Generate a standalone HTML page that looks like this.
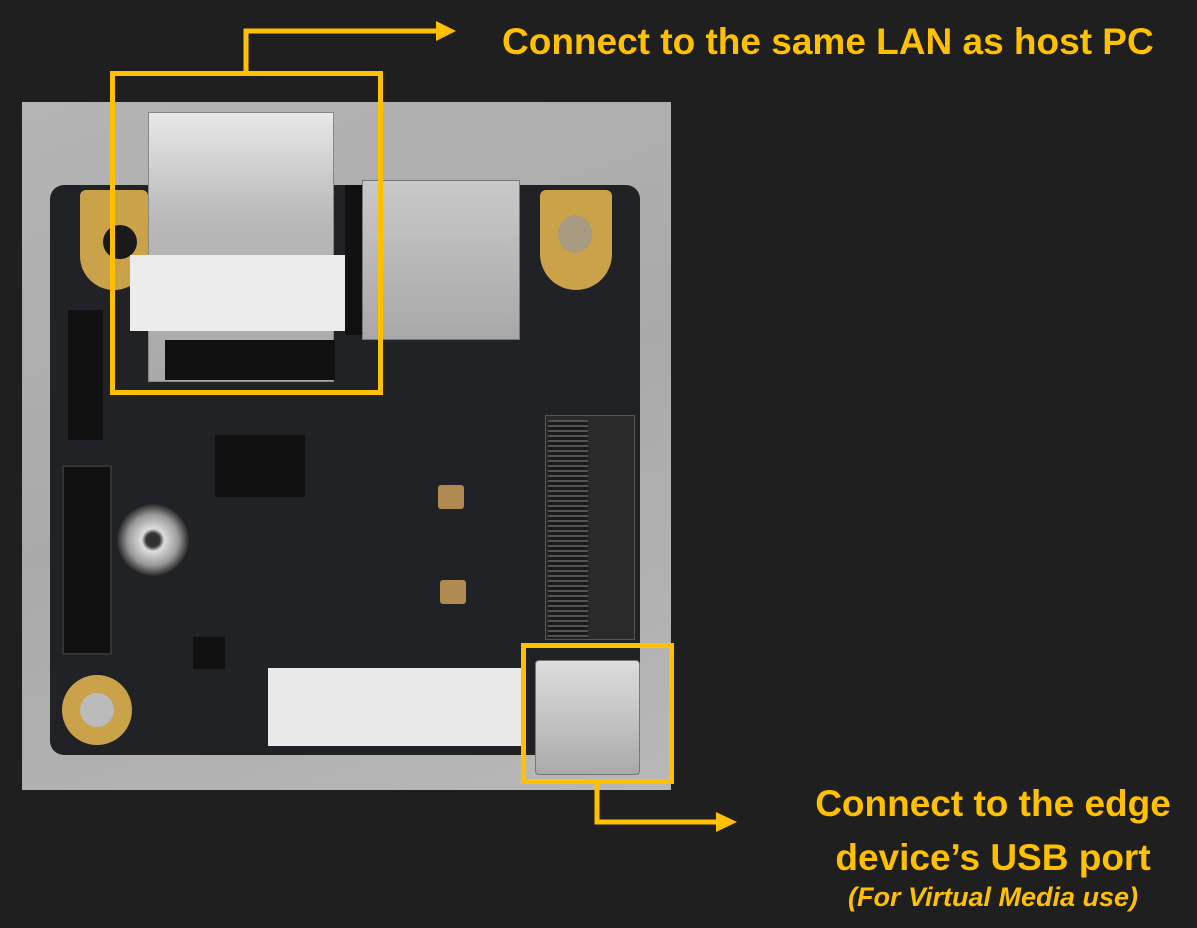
<!DOCTYPE html>
<html><head><meta charset="utf-8"><style>
body{margin:0;width:1197px;height:928px;background:#1f1f1f;position:relative;overflow:hidden;font-family:"Liberation Sans",sans-serif}
div{position:absolute;box-sizing:border-box}
.t{color:#ffc000;font-weight:bold;white-space:nowrap}
</style></head><body>
<div style="left:22px;top:102px;width:649px;height:688px;background:linear-gradient(160deg,#b4b4b4,#a9a9a9 50%,#b8b8b8)"></div>
<div style="left:50px;top:185px;width:590px;height:570px;background:#202226;border-radius:14px"></div>
<div style="left:62px;top:465px;width:50px;height:190px;background:#111;border:2px solid #333"></div>
<div style="left:68px;top:310px;width:35px;height:130px;background:#111"></div>
<div style="left:80px;top:190px;width:68px;height:100px;background:#c9a24a;border-radius:6px 6px 34px 34px"></div>
<div style="left:103px;top:225px;width:34px;height:34px;background:#1a1a1a;border-radius:50%"></div>
<div style="left:540px;top:190px;width:72px;height:100px;background:#c9a24a;border-radius:6px 6px 36px 36px"></div>
<div style="left:558px;top:215px;width:34px;height:38px;background:#a89a80;border-radius:50%"></div>
<div style="left:62px;top:675px;width:70px;height:70px;background:#c9a24a;border-radius:50%"></div>
<div style="left:80px;top:693px;width:34px;height:34px;background:#bbb;border-radius:50%"></div>
<div style="left:148px;top:112px;width:186px;height:270px;background:linear-gradient(180deg,#e8e8e8,#b8b8b8 40%,#a8a8a8);border:1px solid #888"></div>
<div style="left:130px;top:255px;width:250px;height:76px;background:#ececec"></div>
<div style="left:165px;top:340px;width:170px;height:40px;background:#111"></div>
<div style="left:345px;top:185px;width:20px;height:150px;background:#111"></div>
<div style="left:362px;top:180px;width:158px;height:160px;background:linear-gradient(180deg,#c8c8c8,#a8a8a8);border:1px solid #777"></div>
<div style="left:215px;top:435px;width:90px;height:62px;background:#111"></div>
<div style="left:113px;top:500px;width:80px;height:80px;background:radial-gradient(circle,#333 12%,#ddd 20%,#999 45%,#333 62%,transparent 64%)"></div>
<div style="left:438px;top:485px;width:26px;height:24px;background:#b08a50;border-radius:3px"></div>
<div style="left:440px;top:580px;width:26px;height:24px;background:#b08a50;border-radius:3px"></div>
<div style="left:193px;top:637px;width:32px;height:32px;background:#111"></div>
<div style="left:545px;top:415px;width:90px;height:225px;background:#2a2a2a;border:1px solid #555"></div>
<div style="left:548px;top:420px;width:40px;height:218px;background:repeating-linear-gradient(180deg,#555 0 2px,#1b1b1b 2px 5px)"></div>
<div style="left:268px;top:668px;width:254px;height:78px;background:#e9e9e9"></div>
<div style="left:535px;top:660px;width:105px;height:115px;background:linear-gradient(180deg,#ddd,#aaa);border:1px solid #777;border-radius:4px"></div>
<div style="left:110px;top:71px;width:273px;height:324px;border:5px solid #ffc000"></div>
<div style="left:521px;top:643px;width:153px;height:141px;border:5px solid #ffc000"></div>
<svg style="position:absolute;left:0;top:0" width="1197" height="928">
<polyline points="246,73 246,31 438,31" fill="none" stroke="#ffc000" stroke-width="5"/>
<polygon points="436,21 456,31 436,41" fill="#ffc000"/>
<polyline points="597,782 597,822 718,822" fill="none" stroke="#ffc000" stroke-width="5"/>
<polygon points="716,812 737,822 716,832" fill="#ffc000"/>
</svg>
<div class="t" style="left:502px;top:21px;font-size:37px">Connect to the same LAN as host PC</div>
<div class="t" style="left:793px;top:777px;width:400px;text-align:center;font-size:37px;line-height:54px">Connect to the edge<br>device’s USB port</div>
<div class="t" style="left:793px;top:882px;width:400px;text-align:center;font-size:27px;font-style:italic">(For Virtual Media use)</div>
</body></html>
